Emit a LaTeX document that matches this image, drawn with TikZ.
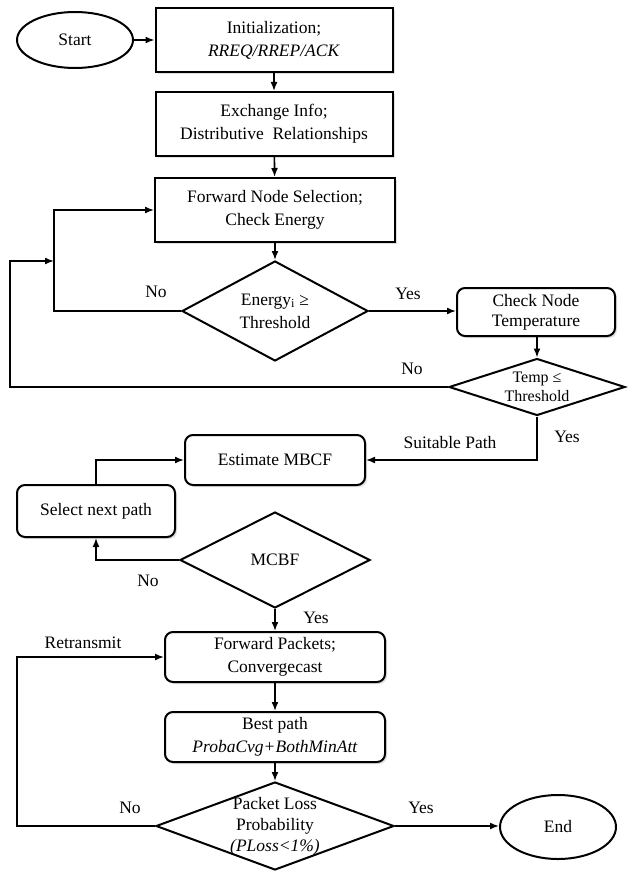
\documentclass[tikz,border=0pt]{standalone}
\usepackage{fontspec}
\setmainfont{Liberation Serif}
\usetikzlibrary{shapes.geometric,arrows.meta,shadows}
\begin{document}
\begin{tikzpicture}[x=1pt,y=-1pt,
  every node/.style={font=\fontsize{17.5}{23}\selectfont, align=center},
  shd/.style={drop shadow={opacity=0.25, shadow xshift=2pt, shadow yshift=-2pt}},
  sbox/.style={draw, fill=white, shd, line width=2pt, minimum width=#1, minimum height=64, inner sep=2pt},
  rbox/.style={draw, fill=white, shd, line width=2pt, rounded corners=8pt, minimum height=50, minimum width=#1, inner sep=2pt},
  dia/.style={draw, diamond, line width=2pt, inner sep=0pt},
  oval/.style={draw, ellipse, line width=2pt, inner sep=0pt},
  arr/.style={line width=1.6pt, -{Latex[length=9pt,width=7pt]}},
  lbl/.style={inner sep=0pt}
]
\useasboundingbox (0,0) rectangle (627,872);
\fill[white] (0,0) rectangle (627,872);

\node[oval, minimum width=116, minimum height=56] (start) at (75,40) {Start};
\node[sbox=237] (init) at (274,40) {Initialization;\\\textit{RREQ/RREP/ACK}};
\node[sbox=237] (exch) at (274,124) {Exchange Info;\\Distributive\ \ Relationships};
\node[sbox=240] (fwd) at (275,210) {Forward Node Selection;\\Check Energy};
\node[dia, minimum width=186, minimum height=100] (en) at (275,311) {};
\node (ent) at (en) {Energy\textsubscript{i} ≥\\Threshold};
\node[rbox=158, minimum height=48, inner sep=1pt, font=\fontsize{17.5}{20}\selectfont] (cnt) at (536,312) {Check Node\\Temperature};
\node[dia, minimum width=176, minimum height=57] (tmp) at (537,387) {};
\node[font=\fontsize{16}{19}\selectfont] (tmpt) at (tmp) {Temp ≤\\Threshold};
\node[rbox=180] (est) at (275,460) {Estimate MBCF};
\node[rbox=158, minimum height=52] (sel) at (96,511) {Select next path};
\node[dia, minimum width=190, minimum height=96] (mc) at (275,560) {};
\node (mct) at (mc) {MCBF};
\node[rbox=220] (fp) at (275,657) {Forward Packets;\\Convergecast};
\node[rbox=220] (bp) at (275,737) {Best path\\\textit{ProbaCvg+BothMinAtt}};
\node[dia, minimum width=238, minimum height=88] (pl) at (275,826) {};
\node[font=\fontsize{17.5}{21}\selectfont] (plt) at (pl) {Packet Loss\\Probability\\\textit{(PLoss<1\%)}};
\node[oval, minimum width=116, minimum height=64] (fin) at (558,827) {End};

\coordinate (l1) at (54,211);
\coordinate (l0) at (10,261);
\coordinate (l2) at (17,657);

\draw[arr] (start) -- (init);
\draw[arr] (init) -- (exch);
\draw[arr] (exch) -- (fwd);
\draw[arr] (fwd) -- (en);
\draw[arr] (en.east) -- (en.east -| cnt.west);
\draw[arr] (cnt.south -| tmp.north) -- (tmp.north);
\draw[arr] (en.west) -- (en.west -| l1) |- (fwd.west);
\draw[arr] (tmp.west) -| (l0) -- (l0 -| l1);
\draw[arr] (tmp.south) -- (tmp.south |- est.east) -- (est.east);
\draw[arr] (sel.north) |- (est.west);
\draw[arr] (mc.west) -| (sel.south);
\draw[arr] (mc) -- (fp);
\draw[arr] (fp) -- (bp);
\draw[arr] (bp) -- (pl);
\draw[arr] (pl.east) -- (pl.east -| fin.west);
\draw[arr] (pl.west) -- (pl.west -| l2) -- (l2) -- (fp.west);

\node[lbl] (n1) at (156,292) {No};
\node[lbl] (y1) at (408,294) {Yes};
\node[lbl] (n2) at (412,369) {No};
\node[lbl] (sp) at (450,443) {Suitable Path};
\node[lbl] (y2) at (567,437) {Yes};
\node[lbl] (n3) at (148,581) {No};
\node[lbl] (y3) at (316,618) {Yes};
\node[lbl] (rt) at (83,643) {Retransmit};
\node[lbl] (n4) at (130,808) {No};
\node[lbl] (y4) at (421,808) {Yes};
\end{tikzpicture}
\end{document}
